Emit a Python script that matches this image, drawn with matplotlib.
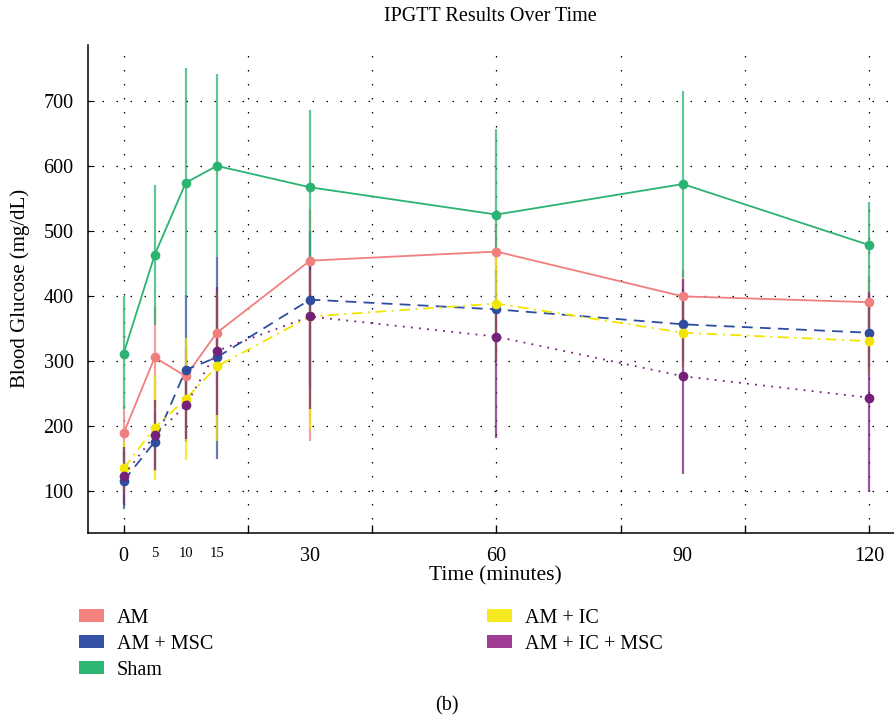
import matplotlib
matplotlib.use('Agg')
import matplotlib.pyplot as plt
from matplotlib.patches import Patch

plt.rcParams['font.family'] = ['Liberation Serif', 'DejaVu Serif']

# sampling times (minutes)
time = [0, 5, 10, 15, 30, 60, 90, 120]

# blood glucose means and error bar limits (mg/dL)
am_mean = [188, 305, 276, 343, 454, 468, 399, 390]
am_lo = [150, 227, 236, 290, 176, 430, 360, 350]
am_hi = [229, 383, 316, 400, 532, 510, 440, 430]

msc_mean = [115, 175, 286, 305, 394, 379, 356, 343]
msc_lo = [71, 130, 175, 148, 260, 300, 300, 290]
msc_hi = [159, 220, 401, 460, 500, 440, 410, 400]

sham_mean = [311, 463, 574, 600, 567, 525, 572, 478]
sham_lo = [226, 355, 398, 459, 455, 474, 427, 406]
sham_hi = [399, 570, 750, 741, 686, 657, 715, 544]

ic_mean = [134, 197, 241, 291, 368, 388, 343, 330]
ic_lo = [94, 116, 147, 176, 194, 300, 290, 280]
ic_hi = [174, 278, 335, 406, 440, 460, 400, 390]

icmsc_mean = [123, 185, 231, 315, 368, 337, 276, 243]
icmsc_lo = [79, 131, 180, 216, 225, 181, 125, 98]
icmsc_hi = [167, 240, 282, 414, 455, 378, 426, 406]

groups = ['AM', 'AM + MSC', 'Sham', 'AM + IC', 'AM + IC + MSC']
tick_labels = ['0', '5', '10', '15', '30', '60', '90', '120']

series = [
    (am_mean, am_lo, am_hi, '#F07F7D', '#F5827F', '-'),
    (msc_mean, msc_lo, msc_hi, '#2E4D9E', '#3453A4', (0, (6, 4))),
    (sham_mean, sham_lo, sham_hi, '#2BB371', '#2DB673', '-'),
    (ic_mean, ic_lo, ic_hi, '#F2E600', '#F4EA1F', (0, (6, 3, 1.2, 3))),
    (icmsc_mean, icmsc_lo, icmsc_hi, '#74217A', '#A13C94', (0, (1, 3.5))),
]

fig = plt.figure(figsize=(8.94, 7.16), dpi=100)
ax = fig.add_axes([0.098, 0.256, 0.902, 0.681])

# error bars first, then lines and markers on top
for mean, lo, hi, col, _, _ in series:
    err = [[m - l for m, l in zip(mean, lo)], [h - m for m, h in zip(mean, hi)]]
    ax.errorbar(time, mean, yerr=err, fmt='none', ecolor=col,
                elinewidth=1.6, alpha=0.75, capsize=0)
for mean, lo, hi, col, _, ls in series:
    ax.plot(time, mean, linestyle=ls, color=col, lw=1.3,
            marker='o', markersize=7, markeredgewidth=0)

ax.set_xlim(-5.8, 124)
ax.set_ylim(35, 786)

# labelled times as major ticks, tick marks and grid every 20 min as minor
ax.xaxis.remove_overlapping_locs = False
ax.set_xticks(time, tick_labels)
ax.set_xticks(range(0, 121, 20), minor=True)
ax.tick_params(axis='x', which='major', length=0, labelsize=14.5, pad=10)
for lab in ax.get_xticklabels()[1:4]:
    lab.set_fontsize(10.5)
ax.tick_params(axis='x', which='minor', direction='in', length=6, width=1)
ax.set_yticks(range(100, 701, 100))
ax.tick_params(axis='y', direction='in', length=4, labelsize=14.5, pad=10)

dots = (0, (1.2, 10))
ax.xaxis.grid(True, which='minor', color='black', linestyle=dots, lw=0.9)
ax.yaxis.grid(True, which='major', color='black', linestyle=dots, lw=0.9)
for s in ['top', 'right']:
    ax.spines[s].set_visible(False)
ax.spines['left'].set_linewidth(1.1)
ax.spines['bottom'].set_linewidth(1.1)

ax.set_xlabel('Time (minutes)', fontsize=15.5)
ax.xaxis.set_label_coords(0.506, -0.068)
ax.set_ylabel('Blood Glucose (mg/dL)', fontsize=15)
ax.yaxis.set_label_coords(-0.072, 0.5)
fig.text(0.549, 0.977, 'IPGTT Results Over Time', ha='center', va='center', fontsize=14.5)

handles = [Patch(facecolor=s[4], edgecolor='none') for s in series]
fig.legend(handles, groups, loc='upper left', bbox_to_anchor=(0.088, 0.150),
           ncol=2, frameon=False, fontsize=14.5, handlelength=1.25, handleheight=0.65,
           handletextpad=0.65, labelspacing=0.35, columnspacing=13.6,
           borderaxespad=0, borderpad=0)

fig.text(0.5, 0.014, '(b)', ha='center', va='center', fontsize=14.5)

fig.savefig('out.png', dpi=100)
